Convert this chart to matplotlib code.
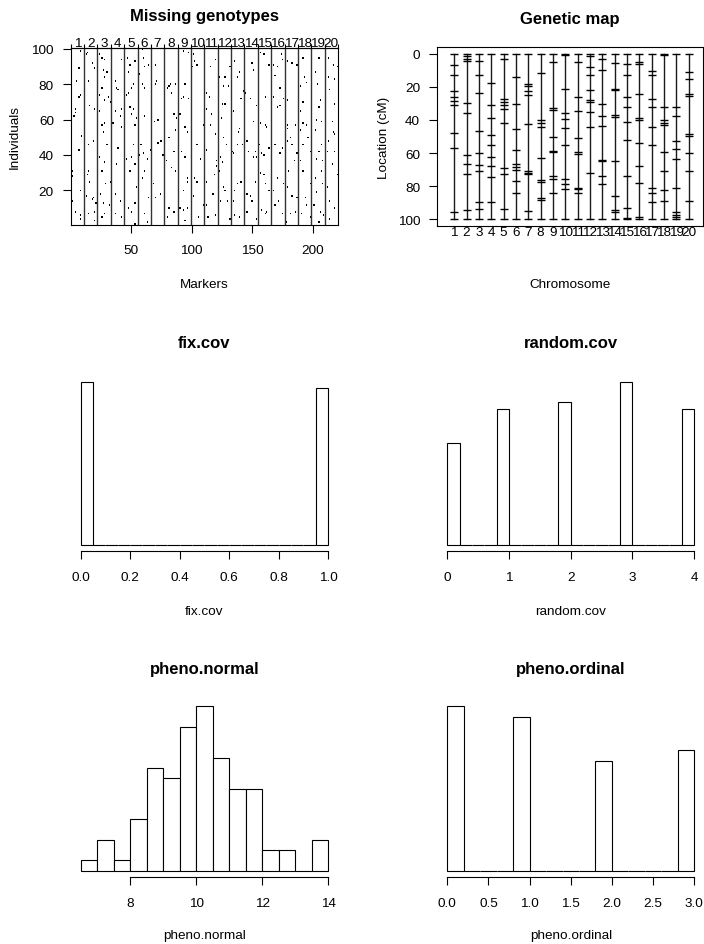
import matplotlib
matplotlib.use('Agg')
import matplotlib.pyplot as plt
import numpy as np

plt.rcParams['font.family'] = ['Liberation Sans', 'DejaVu Sans']
plt.rcParams['font.size'] = 9.7
plt.rcParams['axes.linewidth'] = 0.8

# ---- data ----
chr_names = [str(i) for i in range(1, 21)]
mar_per_chr = [11, 11, 11, 11, 11, 11, 11, 11, 11, 11,
               11, 11, 11, 11, 11, 11, 11, 11, 11, 11]
n_ind = 100

# missing genotypes: marker index / individual index of each black dot
miss_marker = [8, 7, 5, 8, 7, 4, 4, 3, 9, 7, 2, 2, 8, 2, 8, 8, 4,
               14, 13, 18, 15, 20, 16, 20, 15, 19, 15, 14, 16, 13, 18, 19, 21, 20, 15, 20,
               24, 26, 28, 27, 30, 28, 26, 24, 31, 28, 24, 28, 26, 27, 30, 24, 28, 26, 29, 25, 27, 32, 26, 28,
               42, 37, 38, 39, 33, 34, 37, 42, 41, 35, 42, 34, 39, 38, 33, 37, 41, 34, 42, 37,
               47, 49, 53, 48, 52, 46, 48, 50, 49, 52, 50, 54, 53, 52, 46, 50, 53, 49, 54, 53, 48, 50, 53,
               59, 60, 61, 64, 57, 61, 59, 61, 58, 60, 57, 63, 61, 59, 64, 56, 61, 63,
               70, 71, 70, 69, 72, 72, 74, 75, 66, 68, 70, 74, 76,
               81, 82, 80, 83, 86, 85, 87, 86, 81, 85, 79, 83, 86, 89, 81, 85, 80,
               93, 97, 91, 93, 94, 97, 90, 94, 96, 91, 94, 89, 96, 93, 96, 90, 93, 96, 94,
               101, 100, 104, 102, 109, 104, 107, 102, 104, 101, 109, 105,
               119, 115, 112, 114, 112, 116, 115, 119, 112, 120, 120, 118, 112, 117, 112, 113, 119,
               122, 127, 130, 126, 131, 125, 127, 124, 126, 128, 123, 125, 122, 126, 127, 123, 129, 132, 131,
               135, 139, 137, 142, 140, 134, 139, 138, 137, 141, 134, 133, 140, 137, 135, 134, 135, 139,
               149, 150, 144, 153, 148, 150, 145, 152, 153, 146, 150, 143, 152, 148, 145, 149, 145, 153,
               156, 159, 163, 160, 156, 160, 161, 155, 157, 159, 163, 156, 159, 160, 163, 157, 161, 160,
               173, 167, 170, 174, 168, 172, 167, 175, 170, 172, 168, 174, 172, 170, 175, 168, 171, 174, 167,
               178, 182, 186, 178, 178, 178, 185, 181, 178, 182, 186, 184, 179, 178, 182, 186, 181, 185, 177,
               191, 192, 189, 194, 191, 189, 191, 194, 189, 195, 191, 197, 189, 191, 187, 197, 193, 194, 190, 197,
               204, 201, 203, 205, 204, 206, 202, 201, 206, 204, 202, 207, 206, 201, 207, 202, 200, 205, 208, 204,
               212, 216, 219, 212, 217, 213, 217, 215, 216, 217, 212, 211, 217, 215, 219, 211, 213, 217, 213]
miss_ind = [99, 89, 82, 74, 73, 66, 64, 62, 51, 43, 31, 28, 20, 14, 6, 4, 8,
            98, 97, 92, 82, 89, 68, 66, 46, 48, 31, 29, 25, 17, 15, 16, 13, 8, 7, 3,
            97, 95, 94, 88, 87, 84, 78, 74, 73, 71, 65, 58, 57, 53, 46, 39, 36, 31, 24, 18, 13, 12, 5, 7,
            94, 82, 78, 77, 70, 69, 65, 66, 62, 58, 56, 46, 44, 35, 25, 18, 14, 10, 5, 7,
            95, 91, 93, 87, 80, 74, 75, 78, 67, 66, 63, 61, 57, 46, 38, 39, 35, 31, 22, 13, 10, 8, 1,
            100, 95, 90, 91, 86, 78, 80, 62, 46, 41, 40, 38, 31, 27, 16, 12, 7, 2,
            91, 82, 80, 59, 60, 47, 48, 48, 43, 24, 16, 18, 40,
            79, 80, 78, 75, 80, 63, 61, 54, 50, 42, 37, 33, 31, 24, 10, 8, 5,
            99, 98, 72, 73, 80, 72, 63, 56, 53, 42, 39, 32, 27, 20, 25, 10, 9, 10, 3,
            97, 90, 91, 93, 57, 46, 38, 27, 25, 17, 12, 5,
            94, 90, 75, 73, 66, 63, 57, 52, 43, 37, 34, 29, 25, 18, 12, 5, 6,
            84, 84, 79, 79, 90, 69, 69, 61, 50, 46, 39, 36, 31, 22, 20, 14, 14, 10, 4,
            93, 87, 84, 76, 72, 65, 55, 53, 46, 46, 41, 42, 25, 24, 20, 14, 6, 5,
            92, 88, 75, 68, 72, 59, 48, 42, 39, 42, 39, 31, 25, 17, 18, 14, 8, 4,
            98, 97, 91, 73, 58, 57, 56, 46, 41, 40, 44, 30, 29, 24, 20, 9, 8, 7,
            97, 91, 90, 94, 85, 78, 73, 72, 67, 68, 46, 44, 41, 27, 24, 12, 14, 7, 20,
            93, 92, 91, 71, 57, 55, 57, 50, 48, 46, 41, 37, 31, 22, 17, 16, 7, 8, 2,
            95, 84, 79, 81, 70, 65, 58, 57, 54, 50, 46, 42, 37, 31, 27, 24, 16, 12, 7, 5,
            95, 87, 80, 71, 67, 59, 60, 54, 46, 42, 38, 37, 31, 27, 24, 19, 12, 8, 6, 2,
            95, 91, 90, 84, 83, 77, 69, 59, 53, 52, 48, 42, 42, 35, 29, 22, 14, 10, 4]

# genetic map: marker positions (cM) per chromosome
chr_pos = [
    [0, 6.5, 12.5, 22.5, 26, 28.5, 31, 48, 57, 95.5, 100],
    [0, 1.5, 3, 4.5, 29.5, 36, 61, 66.5, 73, 94.5, 100],
    [0, 4, 12.5, 23.5, 46.5, 60, 67, 71, 89.5, 94, 100],
    [0, 17.5, 31, 38.5, 49, 55, 62.5, 68, 74.5, 89.5, 100],
    [0, 3, 27.5, 29, 31, 33.5, 42, 69, 73, 94, 100],
    [0, 14, 30.5, 45.5, 58, 66.5, 68.5, 70.5, 77, 84, 100],
    [0, 18, 19.5, 22.5, 25, 42.5, 71, 71.8, 72.5, 95, 100],
    [0, 11.5, 40, 42, 44.5, 63, 76.5, 77.5, 87, 88.5, 100],
    [0, 5, 33, 34, 50, 58.5, 59.5, 74, 76, 84.5, 100],
    [0, 0.5, 21, 36, 39.5, 45, 55, 76, 78.5, 82, 100],
    [0, 5, 26, 34.5, 51, 59.5, 60.5, 81, 82, 84.5, 100],
    [0, 1, 8, 13, 22, 28, 29, 35, 44, 72, 100],
    [0, 3, 9.5, 30.5, 37.5, 43.5, 64, 65, 74, 79, 100],
    [0, 5.5, 21, 22, 37, 38, 65, 86, 94.5, 95.5, 100],
    [0, 6, 13, 26, 32, 41.5, 52, 74, 93, 99.5, 100],
    [0, 5, 6, 24, 38.5, 40, 54, 68, 78, 98.5, 100],
    [0, 10.5, 13, 27, 32, 44, 55, 81, 84.5, 89.5, 100],
    [0, 0.7, 32, 40, 42, 43, 59.5, 71, 82.5, 89, 100],
    [0, 32, 37.5, 52.5, 57.5, 63.5, 81, 95.5, 97.5, 99, 100],
    [0, 11, 15, 24.5, 25.5, 48.5, 49.5, 60, 71, 89, 100],
]

# histograms: bin edges and counts
fix_cov_edges = np.linspace(0, 1, 21)
fix_cov_counts = [51, 0, 0, 0, 0, 0, 0, 0, 0, 0, 0, 0, 0, 0, 0, 0, 0, 0, 0, 49]
random_cov_edges = np.linspace(0, 4, 21)
random_cov_counts = [15, 0, 0, 0, 20, 0, 0, 0, 0, 21, 0, 0, 0, 0, 24, 0, 0, 0, 0, 20]
pheno_normal_edges = np.linspace(6.5, 14, 16)
pheno_normal_counts = [1, 3, 1, 5, 10, 9, 14, 16, 11, 8, 8, 2, 2, 0, 3]
pheno_ordinal_edges = np.linspace(0, 3, 16)
pheno_ordinal_counts = [30, 0, 0, 0, 28, 0, 0, 0, 0, 20, 0, 0, 0, 0, 22]

# ---- figure, laid out in pixels ----
W, H = 704, 945
fig = plt.figure(figsize=(W / 100, H / 100), dpi=100)


def add_ax(x0, y0, x1, y1):
    return fig.add_axes([x0 / W, 1 - y1 / H, (x1 - x0) / W, (y1 - y0) / H])


def put_text(x, y, s, **kw):
    fig.text(x / W, 1 - y / H, s, **kw)


def style_ticks(ax):
    ax.tick_params(direction='out', length=5.8, width=0.8, labelsize=9.7)
    ax.tick_params(axis='x', pad=8.3)
    ax.tick_params(axis='y', pad=6.3)


title_kw = dict(ha='center', va='baseline', fontsize=12, fontweight='bold')
lab_kw = dict(ha='center', va='baseline', fontsize=9.7)

# Missing genotypes
ax = add_ax(70.7, 49, 338, 225.7)
n_mar = sum(mar_per_chr)
grid = np.zeros((n_ind, n_mar))
grid[np.array(miss_ind) - 1, np.array(miss_marker) - 1] = 1
ax.imshow(grid, cmap='gray_r', origin='lower', aspect='auto', interpolation='nearest',
          extent=(0.5, n_mar + 0.5, 0.5, n_ind + 0.5), vmin=0, vmax=1)
ends = np.cumsum(mar_per_chr)
for b in ends[:-1] + 0.5:
    ax.axvline(b, color='0.2', lw=1.0)
ax.set_xlim(0.5, n_mar + 0.5)
ax.set_ylim(0.5, n_ind + 0.5)
ax.set_xticks([50, 100, 150, 200])
ax.set_yticks([20, 40, 60, 80, 100])
style_ticks(ax)
centers = ends - (np.array(mar_per_chr) - 1) / 2
sec = ax.secondary_xaxis('top')
sec.set_xticks(centers, labels=chr_names)
sec.set_xticks(np.concatenate([[0.5], ends + 0.5]), minor=True)
sec.tick_params(which='major', length=0, pad=-0.8, labelsize=9.7)
sec.tick_params(which='minor', length=3, width=0.8, direction='out')
put_text(204.3, 21.3, 'Missing genotypes', **title_kw)
put_text(204.3, 288.3, 'Markers', **lab_kw)
put_text(15, 137.4, 'Individuals', rotation=90, ha='center', va='center', fontsize=9.7)

# Genetic map
ax = add_ax(437, 48.3, 703.3, 226.7)
for k, pos in enumerate(chr_pos):
    xk = k + 1
    ax.plot([xk, xk], [min(pos), max(pos)], color='0.1', lw=1.0)
    ax.plot([xk] * len(pos), pos, ls='none', marker='_', ms=5.3, mew=1.0, color='black')
ax.set_xlim(-0.4, 21.2)
ax.set_ylim(104, -4)
ax.set_xticks(range(1, 21), labels=chr_names)
ax.set_yticks([0, 20, 40, 60, 80, 100])
style_ticks(ax)
ax.tick_params(axis='x', length=0, pad=0.4)
put_text(570.2, 24, 'Genetic map', **title_kw)
put_text(570.2, 288.3, 'Chromosome', **lab_kw)
put_text(384, 137.5, 'Location (cM)', rotation=90, ha='center', va='center', fontsize=9.7)


def hist_panel(box, edges, counts, xlim, ticks, ticklabels, name, title_y, label_y):
    ax = add_ax(*box)
    ax.bar(edges[:-1], counts, width=np.diff(edges), align='edge',
           color='white', edgecolor='black', linewidth=0.8)
    m = max(counts)
    ax.set_ylim(-0.04 * m, 1.04 * m)
    ax.set_xlim(*xlim)
    for s in ['top', 'right', 'left']:
        ax.spines[s].set_visible(False)
    ax.spines['bottom'].set_bounds(ticks[0], ticks[-1])
    ax.set_yticks([])
    ax.set_xticks(ticks, labels=ticklabels)
    style_ticks(ax)
    cx = (box[0] + box[2]) / 2
    put_text(cx, title_y, name, **title_kw)
    put_text(cx, label_y, name, **lab_kw)


hist_panel((70.7, 376, 338, 552.3), fix_cov_edges, fix_cov_counts, (-0.04, 1.04),
           [0, 0.2, 0.4, 0.6, 0.8, 1.0], ['0.0', '0.2', '0.4', '0.6', '0.8', '1.0'],
           'fix.cov', 348.3, 615)
hist_panel((437.5, 376, 704, 552.3), random_cov_edges, random_cov_counts, (-0.16, 4.16),
           [0, 1, 2, 3, 4], ['0', '1', '2', '3', '4'],
           'random.cov', 348.3, 615)
hist_panel((70.7, 700.8, 338, 878.3), pheno_normal_edges, pheno_normal_counts, (6.2, 14.3),
           [8, 10, 12, 14], ['8', '10', '12', '14'],
           'pheno.normal', 674, 939)
hist_panel((437.5, 700.8, 704, 878.3), pheno_ordinal_edges, pheno_ordinal_counts, (-0.12, 3.12),
           [0, 0.5, 1, 1.5, 2, 2.5, 3], ['0.0', '0.5', '1.0', '1.5', '2.0', '2.5', '3.0'],
           'pheno.ordinal', 674, 939)

fig.savefig('out.png', dpi=100)
